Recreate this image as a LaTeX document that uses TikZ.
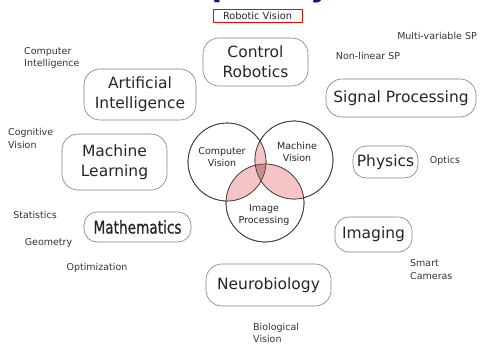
\documentclass[tikz,border=0pt]{standalone}
\usepackage{fontspec}
\setmainfont{DejaVu Sans}
\newfontfamily\titlefont{DejaVu Sans}
\newfontfamily\mathsfont[FakeBold=0.9]{DejaVu Sans}
\definecolor{pairpink}{RGB}{246,196,196}
\definecolor{triplepink}{RGB}{205,140,140}
\definecolor{titleblue}{RGB}{10,20,150}
\tikzset{
  field/.style={draw=black!50, line width=0.6pt, rounded corners=16pt, align=center,
    font=\fontsize{15.5}{20}\selectfont, text=black!85, inner sep=0pt},
  note/.style={align=left, font=\fontsize{9.5}{12.5}\selectfont, text=black!80, inner sep=0pt},
  venn/.style={circle, draw=black!75, line width=0.7pt, minimum size=78pt, inner sep=0pt},
  venntext/.style={align=center, font=\fontsize{9.5}{12.5}\selectfont, text=black!85, inner sep=0pt},
}
\begin{document}
\begin{tikzpicture}[x=1pt,y=-1pt]
\useasboundingbox (0,0) rectangle (484,350);

% heading, cut by the top edge
\begin{scope}
  \clip (0,0) rectangle (484,350);
  \node[anchor=base west, inner sep=0pt, text=titleblue,
        font=\titlefont\bfseries\fontsize{30}{30}\selectfont] (title) at (52,-3.5) {Interdisciplinary};
\end{scope}

% robotic vision tag
\node[draw=red, line width=0.9pt, minimum width=89pt, minimum height=13pt, inner sep=0pt,
      font=\fontsize{9.8}{12}\selectfont, text=black!85] (rv) at (257.5,15.5) {Robotic Vision};

% Venn diagram of the three core fields
\node[venn] (cv) at (227,162) {};
\node[venn] (mv) at (294,160) {};
\node[venn] (ip) at (265,203) {};
\begin{scope}
  \clip (227,162) circle (39pt);
  \fill[pairpink] (294,160) circle (39pt);
  \fill[pairpink] (265,203) circle (39pt);
\end{scope}
\begin{scope}
  \clip (294,160) circle (39pt);
  \fill[pairpink] (265,203) circle (39pt);
\end{scope}
\begin{scope}
  \clip (227,162) circle (39pt);
  \clip (294,160) circle (39pt);
  \fill[triplepink] (265,203) circle (39pt);
\end{scope}
\draw[black!75, line width=0.7pt] (227,162) circle (39pt) (294,160) circle (39pt) (265,203) circle (39pt);
\node[venntext] (cvt) at (222,157) {Computer\\Vision};
\node[venntext] (mvt) at (297,152) {Machine\\Vision};
\node[venntext] (ipt) at (264,215) {Image\\Processing};

% surrounding fields
\node[field, minimum width=105pt, minimum height=48pt] (cr) at (255.5,62) {Control\\Robotics};
\node[field, minimum width=112pt, minimum height=51pt] (ai) at (140,94.5) {Artificial\\Intelligence};
\node[field, minimum width=150pt, minimum height=38pt] (sp) at (401,98) {Signal Processing};
\node[field, minimum width=105pt, minimum height=56pt] (ml) at (114.5,162) {Machine\\Learning};
\node[field, minimum width=65pt, minimum height=32pt, rounded corners=13pt] (ph) at (385.5,162) {Physics};
\node[field, minimum width=107pt, minimum height=30pt, rounded corners=13pt] (ma) at (137.5,227)
  {\scalebox{0.78}[1]{\mathsfont\fontsize{17.5}{20}\selectfont Mathematics}};
\node[field, minimum width=77pt, minimum height=35pt, rounded corners=14pt] (im) at (373.5,234.5) {Imaging};
\node[field, minimum width=125pt, minimum height=42pt] (nb) at (268.5,285) {Neurobiology};

% related topics
\node[note, anchor=center] (mvsp) at (437,36) {Multi-variable SP};
\node[note, anchor=center] (nlsp) at (368,56) {Non-linear SP};
\node[note, anchor=west] (ci) at (24,58) {Computer\\Intelligence};
\node[note, anchor=west] (cg) at (8,138.5) {Cognitive\\Vision};
\node[note, anchor=center] (op) at (445,161) {Optics};
\node[note, anchor=center] (st) at (35,215) {Statistics};
\node[note, anchor=center] (ge) at (48.5,243) {Geometry};
\node[note, anchor=center] (oz) at (97,268) {Optimization};
\node[note, anchor=west] (sc) at (410,269.5) {Smart\\Cameras};
\node[note, anchor=west] (bv) at (253,333) {Biological\\Vision};
\end{tikzpicture}
\end{document}
